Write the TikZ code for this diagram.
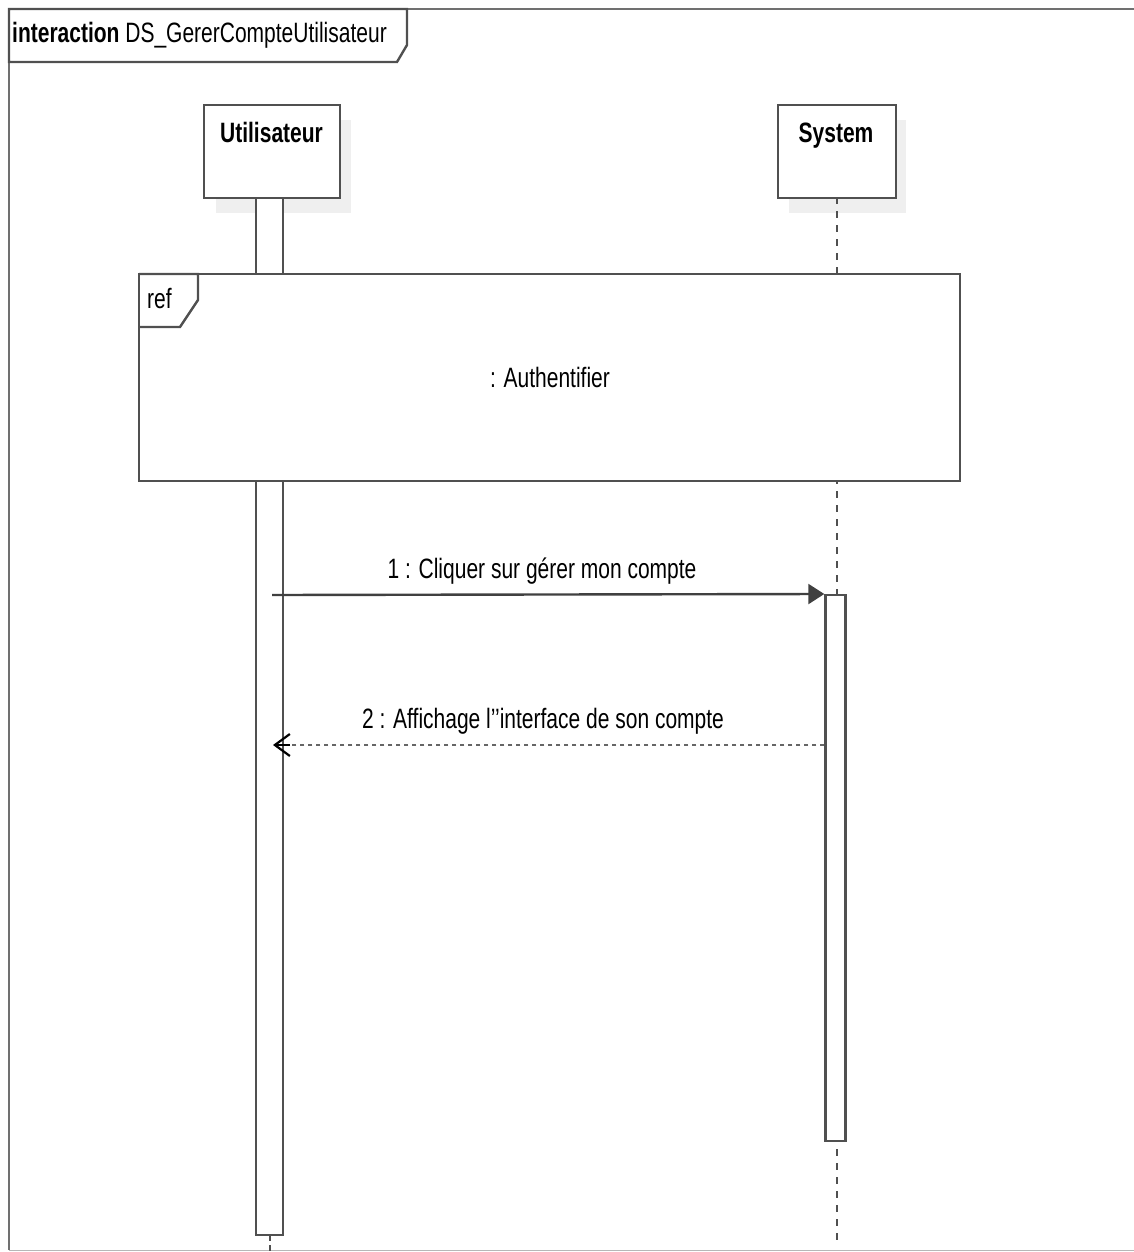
\documentclass[tikz,border=0pt]{standalone}
\usepackage{fontspec}
\setmainfont{Liberation Sans}[FakeStretch=0.75]
\usetikzlibrary{arrows.meta}
\definecolor{umlline}{HTML}{505050}
\definecolor{umlshadow}{HTML}{EFEFEF}
\definecolor{umlframe}{HTML}{707070}
\begin{document}
\begin{tikzpicture}[x=1pt,y=-1pt,
  every node/.style={font=\fontsize{28}{31}\selectfont, inner sep=0pt},
  headbox/.style={draw=umlline, line width=2.4pt, fill=white},
  shadowbox/.style={fill=umlshadow, draw=none},
  actbar/.style={draw=umlline, line width=2.4pt, fill=white},
  lifeline/.style={draw=umlline, line width=2.2pt, dash pattern=on 7pt off 7pt},
  msgline/.style={draw=black!75, line width=2.4pt},
  replyline/.style={draw=black!60, line width=2.6pt, dash pattern=on 4pt off 4pt},
  framebox/.style={draw=umlframe, line width=2.4pt}]
\useasboundingbox (0,0) rectangle (1134,1252);
\begin{scope}
\clip (0,0) rectangle (1134,1252);
% outer interaction frame
\draw[framebox] (9,1250) -- (9,9) -- (1140,9);
\draw[draw=umlframe!50, line width=1.5pt] (9,1250.5) -- (1140,1250.5);
\end{scope}
% frame title tab
\draw[framebox, draw=umlline, fill=white] (9,9) -- (407,9) -- (407,45) -- (397,62) -- (9,62) -- cycle;
\node[anchor=base west] (title) at (12,43) {\textbf{interaction} DS\_GererCompteUtilisateur};

% shadows of lifeline heads
\fill[shadowbox] (216,120) rectangle (351,213);
\fill[shadowbox] (789,120) rectangle (906,213);

% lifeline of System
\coordinate (sysTop) at (837,197);
\coordinate (sysBot) at (837,1240);
\draw[lifeline] (sysTop) -- (sysBot);
% lifeline tail of Utilisateur
\coordinate (utlBot) at (270,1252);
\coordinate (utlEnd) at (270,1235);
\draw[lifeline, dash pattern=on 6pt off 4pt] (utlEnd) -- (utlBot);

% activation bars
\draw[actbar] (256,197) rectangle (283,1235);
\node[minimum width=20pt, minimum height=546pt, draw=umlline, line width=2.4pt, fill=white, anchor=north] (sysAct) at (835.5,594) {};

% interaction use: Authentifier
\draw[draw=umlline, line width=2.4pt, fill=white] (139,274) rectangle (960,481);
\node[anchor=center] (auth) at (550,377) {: Authentifier};
\draw[draw=umlline, line width=2.4pt] (139,274) -- (198,274) -- (198,300) -- (180,327) -- (139,327);
\node[anchor=base west] (reflbl) at (147,308) {ref};

% lifeline heads
\node[headbox, minimum width=136pt, minimum height=93pt, anchor=north west] (utl) at (203,104) {};
\node[anchor=base, font=\fontsize{28}{31}\selectfont\bfseries] at (271.5,143) {Utilisateur};
\node[headbox, minimum width=118pt, minimum height=93pt, anchor=north west] (sys) at (777,104) {};
\node[anchor=base, font=\fontsize{28}{31}\selectfont\bfseries] at (836,143) {System};

% messages
\coordinate (m1s) at (272,595);
\draw[msgline, -{Triangle[length=16pt,width=20pt]}] (m1s) -- (sysAct.north west);
\node[anchor=base] (m1) at (542,578) {1 : Cliquer sur gérer mon compte};
\coordinate (m2e) at (273,745);
\draw[replyline] (sysAct.west |- 0,745) -- (288,745);
\draw[draw=black, line width=2.2pt, -{Straight Barb[length=15pt,width=22pt]}] (290,745) -- (m2e);
\node[anchor=base] (m2) at (543,728) {2 : Affichage l\symbol{39}\symbol{39}interface de son compte};
\end{tikzpicture}
\end{document}
